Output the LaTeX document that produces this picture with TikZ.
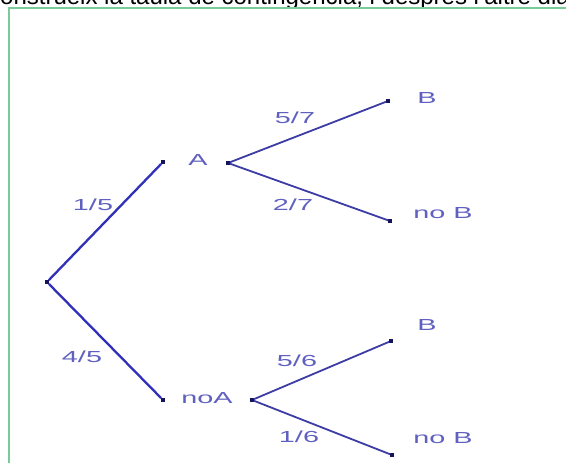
\documentclass[tikz,border=0pt]{standalone}
\usepackage{fontspec}
\setmainfont{Liberation Sans}
\definecolor{lblc}{HTML}{6060C0}
\definecolor{linec}{HTML}{3C3CA4}
\definecolor{line1c}{HTML}{3030B8}
\definecolor{dotc}{HTML}{14145A}
\definecolor{framec}{HTML}{77CC99}
\tikzset{
  x=1pt, y=-1pt,
  dotn/.style={rectangle, fill=dotc, minimum size=3.4pt, inner sep=0pt},
  lbl/.style={text=lblc, inner sep=0pt, font=\fontsize{16}{16}\selectfont},
  br1/.style={draw=line1c, line width=2.3pt},
  br2/.style={draw=linec, line width=1.8pt},
}
\newcommand{\widetxt}[1]{\scalebox{1.8}[1]{#1}}
\begin{document}
\begin{tikzpicture}
\useasboundingbox (0,0) rectangle (566,463);
% header text (cut off at the top, as in the reference)
\node[anchor=base west, inner sep=0pt, font=\fontsize{24}{24}\selectfont] (hdr) at (-12,5) {construeix la taula de contingència, i després l'altre dia};
% frame
\draw[framec, line width=1.6pt] (9,475) -- (9,8) -- (580,8);
% points
\node[dotn] (r) at (47,282) {};
\node[dotn] (ae) at (163,162) {};
\node[dotn] (as) at (228,163) {};
\node[dotn] (ne) at (163,400) {};
\node[dotn] (ns) at (252,400) {};
\node[dotn] (b1) at (388,101) {};
\node[dotn] (nb1) at (390,221) {};
\node[dotn] (b2) at (391,341) {};
\node[dotn] (nb2) at (392,455) {};
% branches
\draw[br1] (r) -- (ae);
\draw[br1] (r) -- (ne);
\draw[br2] (as) -- (b1);
\draw[br2] (as) -- (nb1);
\draw[br2] (ns) -- (b2);
\draw[br2] (ns) -- (nb2);
% labels
\node[lbl] (la) at (198,160) {\widetxt{A}};
\node[lbl] (lna) at (207,398) {\widetxt{noA}};
\node[lbl] (lb1) at (427,98) {\widetxt{B}};
\node[lbl] (lnb1) at (443,213) {\widetxt{no B}};
\node[lbl] (lb2) at (427,325) {\widetxt{B}};
\node[lbl] (lnb2) at (443,438) {\widetxt{no B}};
\node[lbl] (p15) at (93,205) {\widetxt{1/5}};
\node[lbl] (p45) at (82,357) {\widetxt{4/5}};
\node[lbl] (p57) at (295,118) {\widetxt{5/7}};
\node[lbl] (p27) at (293,205) {\widetxt{2/7}};
\node[lbl] (p56) at (297,361) {\widetxt{5/6}};
\node[lbl] (p16) at (299,437) {\widetxt{1/6}};
\end{tikzpicture}
\end{document}
